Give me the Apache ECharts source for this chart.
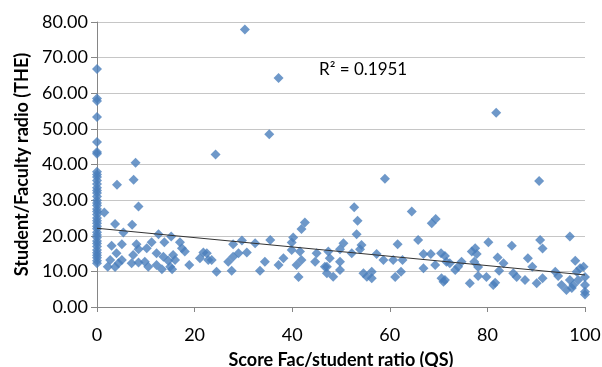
<!DOCTYPE html>
<html>
<head>
<meta charset="utf-8">
<script src="https://cdn.jsdelivr.net/npm/echarts@6/dist/echarts.min.js"></script>
<style>
html,body{margin:0;padding:0;background:#fff;}
#chart{width:602px;height:367px;}
</style>
</head>
<body>
<div id="chart"></div>
<script>
// QS score (x) vs THE student/faculty ratio (y)
var colX = [0,0,0,0,0,0,0,0,0,0,0,0,0,0,0,0,0,0,0,0,0,0,0,0,0,0,0,0,0,0,0,0,0,0,0,0,0,0,0];
var colY = [66.8,58.5,57.8,53.3,46.3,43.5,43.0,38.0,37.2,36.5,35.5,34.5,33.5,32.7,32.0,31.0,30.0,29.2,28.5,27.5,26.8,26.0,25.0,24.2,23.5,22.7,22.0,21.0,20.2,19.5,18.5,17.8,17.0,16.0,15.2,14.5,13.8,13.0,12.3];

var xs = [
  1.5,8.5,3.7,7.2,5.4,12.6,15.2,13.8,11.2,17,3.0,5.1,8.1,8.5,10.2,4.0,7.4,12.2,13.6,15.6,
  17.4,18,21.8,21.1,22.8,2.7,5.1,7.1,8.5,9.8,12.2,14.6,15,16,2.2,3.7,4.4,10.5,13.3,15.4,18.9,
  4.1,7.5,7.9,30.3,37.2,35.3,24.3,81.8,59,90.6,
  42.6,41.9,40.2,39.9,35.5,32.4,29.7,27.9,30.7,29,27.9,26.9,27.6,24.5,23.5,22.5,33.4,34.4,37.2,38.2,
  39.9,41.6,41.9,40.9,41.3,45,44.7,46.7,47.1,
  52.7,53.4,53.2,50.5,49.8,54.2,53.9,52.2,47.4,47.7,49.8,47.1,49.8,48.4,54.6,55.3,56.3,56.3,57.3,58.7,
  60.7,61.6,62.6,62.3,61.1,64.5,65.8,66.9,68.4,66.9,68.6,69.4,70.5,69.3,70.6,71,71.6,
  80.2,85,90.8,91.3,96.9,77.5,76.8,77.8,77.3,78.1,78.1,76.4,79.8,81.2,81.6,82.1,83.3,82.4,85.3,86,
  87.7,88.3,89.2,90.1,91.3,93.9,94.5,95.2,96.2,97.3,96.9,98,98.3,99,99.7,100,100,100,100,98.6,97.6,
  71.3,72.3,74,73.4,74.7,71.3
];
var ys = [
  26.5,28.2,23.3,23.1,20.9,20.4,19.8,18.2,18.2,18.2,17.2,17.6,17.6,16.2,16.5,15.1,14.6,15.1,14.1,14.6,
  16.5,15.6,15.3,13.7,13.2,13.2,13.2,12.3,12.5,12.7,11.8,13,11.3,13.2,11.3,11.2,12.3,11.3,10.6,10.6,11.8,
  34.3,35.7,40.5,77.9,64.3,48.5,42.8,54.5,36,35.4,
  23.7,21.9,19.5,18.1,18.8,17.9,18.7,17.6,15.3,15.1,14.1,12.7,10.2,9.9,13.2,15.1,10.2,12.7,11.8,13.7,
  16,15.6,13.2,11.8,8.4,15.1,12.7,11.3,9.5,
  28,24.2,20.4,17.9,16.2,17.4,16.2,15.1,15.6,13.7,12.7,11.3,10.4,8.5,9.5,8.5,9.9,8.1,14.9,13.2,
  13.2,17.6,13.2,9.9,8.4,26.8,18.8,14.9,14.9,10.9,23.5,24.7,15.1,11.8,8.1,7.1,12.7,
  18.2,17.2,18.8,16.4,19.8,16.5,15.6,14.9,12.7,11.2,8.7,6.7,8.4,6.2,6.8,13.9,12.3,10.2,9.5,8.4,
  7.6,13.7,11.3,6.7,8.1,9.9,8.7,6.2,4.8,5.3,7.6,13,9.9,10.9,11.3,8.4,6.2,4.3,3.5,7.6,6.2,
  14.3,12.3,11.3,10.4,12.7,7.6
];

// linear trend line shown in the reference
var trendA = 22.1;
var trendB = -0.131;
var trendR2 = '0.1951';

var yTicks = [0, 10, 20, 30, 40, 50, 60, 70, 80];

var points = [];
for (var i = 0; i < colX.length; i++) points.push([colX[i], colY[i]]);
for (var j = 0; j < xs.length; j++) points.push([xs[j], ys[j]]);

var trend = [[0, trendA], [100, trendA + 100 * trendB]];

var FONT = 'Lato, "Open Sans", sans-serif';

var myChart = echarts.init(document.getElementById('chart'));

var option = {
    animation: false,
    backgroundColor: '#fff',
    grid: { left: 97, right: 17, top: 22, bottom: 60, outerBoundsMode: 'none', containLabel: false },
    xAxis: {
        type: 'value',
        min: 0, max: 100, interval: 20,
        name: 'Score Fac/student ratio (QS)',
        nameLocation: 'middle',
        nameGap: 44,
        nameTextStyle: { fontFamily: FONT, fontSize: 18, fontWeight: 'bold', color: '#000' },
        axisLine: { show: true, lineStyle: { color: '#868686', width: 1 } },
        axisTick: { show: true, length: 5, lineStyle: { color: '#868686' } },
        axisLabel: { fontFamily: FONT, fontSize: 18, color: '#000', margin: 19 },
        splitLine: { show: false }
    },
    yAxis: {
        type: 'value',
        min: yTicks[0], max: yTicks[yTicks.length - 1], interval: 10,
        name: 'Student/Faculty radio (THE)',
        nameLocation: 'middle',
        nameGap: 65,
        nameTextStyle: { fontFamily: FONT, fontSize: 18, fontWeight: 'bold', color: '#000' },
        axisLine: { show: true, lineStyle: { color: '#868686', width: 1 } },
        axisTick: { show: true, length: 6, lineStyle: { color: '#868686' } },
        axisLabel: {
            fontFamily: FONT, fontSize: 18, color: '#000', margin: 9,
            formatter: function (v) { return v.toFixed(2); }
        },
        splitLine: { show: true, lineStyle: { color: '#c6c6c6', width: 1 } }
    },
    graphic: [{
        type: 'text',
        left: 319, top: 61,
        style: { text: 'R² = ' + trendR2, fontFamily: FONT, fontSize: 17, fill: '#000' }
    }],
    series: [
        {
            name: 'points',
            type: 'scatter',
            symbol: 'diamond',
            symbolSize: 10,
            itemStyle: { color: '#4a7ebb' },
            data: points
        },
        {
            name: 'trend',
            type: 'line',
            symbol: 'none',
            lineStyle: { color: '#333', width: 1 },
            data: trend,
            z: 3
        }
    ]
};
myChart.setOption(option);
</script>
</body>
</html>
